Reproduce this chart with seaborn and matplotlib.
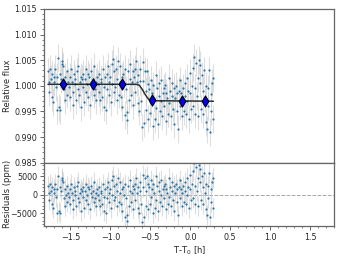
import numpy as np
import matplotlib
matplotlib.use("Agg")
import matplotlib.pyplot as plt
import seaborn as sns
from matplotlib.ticker import MultipleLocator, FormatStrFormatter

# ---- data ----
t_start, t_end = -1.78, 0.29
resid_ppm = [
    2500, 500, -1500, 3000, 1000, -2500, 2000, -3500, 500, 1500,
    3000, -500, 1500, -5000, 5200, -4500, 2000, -5000, 1000, 4000,
    4500, 3500, -1000, 1500, -3000, 0, 2500, -2000, 500, -500,
    1500, -2500, 3000, 500, -1500, -4000, 2000, 0, 1000, -3000,
    2500, -1000, 3500, -2000, 500, 1500, -4500, 1000, -500, 2000,
    -3500, 1000, 3000, -1500, 0, 2000, -2500, 1500, -4000, 500,
    2500, -500, 1000, -2000, 3500, -1000, 500, -3000, 1500, 0,
    -1500, 2000, -3000, 1000, 500, -2500, 3000, -500, -4500, 1500,
    -5000, 2000, -1000, 3500, 500, -2000, 1500, -3500, 4000, 0,
    5000, -1500, 2500, -500, 3000, -3000, 1000, 4500, -2000, 500,
    3500, -2500, 1500, -4500, 2000, 0, -6000, 3000, -1000, -7000,
    -5500, 2500, -3000, 1000, 4000, -2000, 500, 2500, -4000, 1500,
    3000, -1500, 4500, 500, -3500, 2000, -5000, 1000, 3500, -2500,
    -7500, 5500, 2000, -6000, 4500, -3000, 1000, 5000, -4000, 3000,
    2000, -2500, 4000, -500, 1500, -5000, 3000, 500, -3500, 5000,
    -1500, 2500, -4500, 1000, 3500, -2000, 0, 4000, -3000, 1500,
    2500, -1000, 3000, -4000, 1500, 500, -2500, 4500, -500, 2000,
    -3000, 1000, 3500, -1500, 2500, -4500, 500, 3000, -2000, 1500,
    -5500, 2000, -1000, 4000, 1500, -3000, 500, 2500, -2000, 3500,
    1000, -2500, 4500, 0, 2000, -3500, 5500, 1500, -1500, 3000,
    6500, -1000, 8500, 2500, -2500, 7500, 1000, 4500, -3000, 8000,
    3500, 7000, -1500, 5000, 2000, -2500, 6000, 500, 3000, -4000,
    -5500, 2500, -1000, 6000, -6000, 1500, -2000, 3500, -3500, 4500,
]
flux_err = 0.0027
resid_err_ppm = 2700

# transit model (time, relative flux)
model_t = [-1.78, -0.68, -0.64, -0.60, -0.56, -0.52, -0.48, 0.29]
model_f = [1.0003, 1.0003, 1.00015, 0.9993, 0.9982, 0.99735, 0.9971, 0.9970]

# binned points
bin_t = [-1.59, -1.22, -0.85, -0.48, -0.10, 0.19]
bin_f = [1.0003, 1.0003, 1.0003, 0.9973, 0.9970, 0.9970]

# ---- derived ----
t = np.linspace(t_start, t_end, len(resid_ppm))
resid = np.array(resid_ppm, dtype=float)
flux = np.interp(t, model_t, model_f) + resid * 1e-6

sns.set_style("ticks")
plt.rcParams['font.family'] = ['DejaVu Sans']
plt.rcParams['font.size'] = 6

fig = plt.figure(figsize=(3.41, 2.56), dpi=100)
gs = fig.add_gridspec(2, 1, height_ratios=[153, 63], hspace=0,
                      left=0.129, right=0.98, top=0.965, bottom=0.117)
ax = fig.add_subplot(gs[0])
ax2 = fig.add_subplot(gs[1], sharex=ax)

ax.errorbar(t, flux, yerr=flux_err, fmt='none', ecolor='#c8c8c8',
            elinewidth=0.8, alpha=0.6, zorder=1)
sns.scatterplot(x=t, y=flux, s=2.5, color='#1f77b4', linewidth=0, ax=ax, zorder=2)
sns.lineplot(x=model_t, y=model_f, color='k', lw=1.1, ax=ax, zorder=3, alpha=0.8)
sns.scatterplot(x=bin_t, y=bin_f, marker='d', s=32, color='blue',
                edgecolor='k', linewidth=0.8, ax=ax, zorder=4)

ax2.axhline(0, ls='--', color='grey', lw=0.7, alpha=0.7, zorder=0)
ax2.errorbar(t, resid, yerr=resid_err_ppm, fmt='none', ecolor='#c8c8c8',
             elinewidth=0.8, alpha=0.6, zorder=1)
sns.scatterplot(x=t, y=resid, s=2.5, color='#1f77b4', linewidth=0, ax=ax2, zorder=2)

ax.set_xlim(-1.83, 1.80)
ax.set_ylim(0.985, 1.015)
ax2.set_ylim(-8500, 8700)

ax.yaxis.set_major_locator(MultipleLocator(0.005))
ax.yaxis.set_minor_locator(MultipleLocator(0.001))
ax.yaxis.set_major_formatter(FormatStrFormatter('%.3f'))
ax2.xaxis.set_major_locator(MultipleLocator(0.5))
ax2.xaxis.set_minor_locator(MultipleLocator(0.1))
ax2.yaxis.set_major_locator(MultipleLocator(5000))
ax2.yaxis.set_minor_locator(MultipleLocator(1000))
ax.tick_params(axis='x', labelbottom=False, which='both', bottom=False)

for a in (ax, ax2):
    a.tick_params(which='major', length=3, width=0.6, labelsize=5.8, color='0.3', pad=2)
    a.tick_params(which='minor', length=1.5, width=0.5, color='0.3')
    for s in a.spines.values():
        s.set_visible(True)
        s.set_color('0.4')
        s.set_linewidth(0.9)

ax.set_ylabel('Relative flux', fontsize=6)
ax2.set_ylabel('Residuals (ppm)', fontsize=6)
ax2.set_xlabel('T-T$_0$ [h]', fontsize=6, labelpad=2)
ax.yaxis.set_label_coords(-0.11, 0.5)
ax2.yaxis.set_label_coords(-0.11, 0.5)

fig.savefig('out.png', dpi=100)
